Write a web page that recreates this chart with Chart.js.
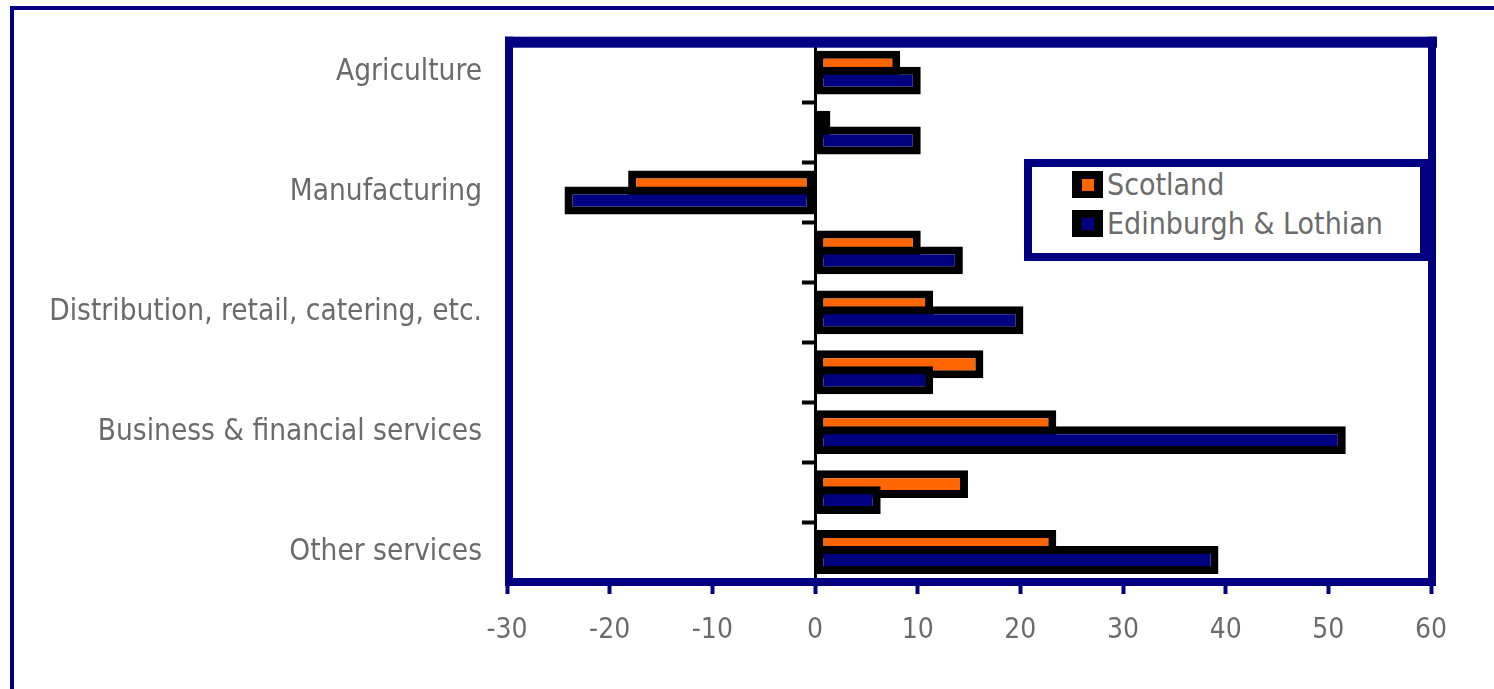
<!DOCTYPE html>
<html>
<head>
<meta charset="utf-8">
<script src="https://cdn.jsdelivr.net/npm/chart.js@4.4.1/dist/chart.umd.min.js"></script>
<style>
  body { margin: 0; background: #fff; }
  #wrap { position: relative; width: 1494px; height: 689px; overflow: hidden; }
  #outer { position: absolute; left: 10px; top: 6px; right: -10px; bottom: -10px;
    border-top: 4px solid #000080; border-left: 4px solid #000080; }
  #cChart { position: absolute; left: 0; top: 0; }
  #legend { position: absolute; left: 1024px; top: 159px; width: 404px; height: 102px;
    box-sizing: border-box; border: 8px solid #000080; background: #fff;
    font-family: "DejaVu Sans Condensed", "Liberation Sans Narrow", sans-serif; font-size: 30px; color: #6b6b6b; }
  .item { position: absolute; left: 40px; height: 27px; display: flex; align-items: center; white-space: nowrap; }
  .mark { width: 31px; height: 27px; background: #000; display: flex; align-items: center; justify-content: center; margin-right: 4px; }
  .mark span { width: 12px; height: 12px; display: block; }
</style>
</head>
<body>
<div id="wrap">
  <div id="outer"></div>
  <canvas id="cChart" width="1494" height="689"></canvas>
  <div id="legend"></div>
</div>
<script>
var categories = ['Agriculture', '', 'Manufacturing', '', 'Distribution, retail, catering, etc.', '',
  'Business & financial services', '', 'Other services'];
var scotland = [8.3, 1.5, -18.2, 10.3, 11.5, 16.4, 23.5, 14.9, 23.5];
var edinburgh = [10.3, 10.3, -24.4, 14.4, 20.3, 11.5, 51.7, 6.4, 39.3];
var xTicks = [-30, -20, -10, 0, 10, 20, 30, 40, 50, 60];
var seriesNames = ['Scotland', 'Edinburgh & Lothian'];
var seriesColors = ['#ff6600', '#000080'];

var navy = '#000080';
var fontFamily = '"DejaVu Sans Condensed", "Liberation Sans Narrow", sans-serif';

// frame round the plot, and draw Scotland first so Edinburgh sits on top
var framePlugin = {
  id: 'frame',
  beforeDatasetsDraw: function(chart) {
    var a = chart.chartArea, ctx = chart.ctx;
    ctx.save();
    ctx.fillStyle = navy;
    ctx.fillRect(a.left - 2, a.top - 6, a.right - a.left + 8, 11); // top
    ctx.fillRect(a.left - 2, a.top - 6, 8, a.bottom - a.top + 10); // left
    ctx.fillRect(a.right - 3, a.top - 6, 8, a.bottom - a.top + 10); // right
    ctx.fillRect(a.left - 2, a.bottom - 4, a.right - a.left + 7, 8); // bottom
    ctx.restore();
  },
  beforeDatasetDraw: function() {
    return false;
  },
  afterDatasetsDraw: function(chart) {
    chart.getDatasetMeta(0).controller.draw();
    chart.getDatasetMeta(1).controller.draw();
  }
};

var chartData = {
  labels: categories,
  datasets: [scotland, edinburgh].map(function(vals, i) {
    return {
      label: seriesNames[i],
      data: vals,
      yAxisID: 'y',
      backgroundColor: seriesColors[i],
      borderColor: '#000',
      borderWidth: 8,
      borderSkipped: false,
      inflateAmount: 0,
      categoryPercentage: 0.532,
      barPercentage: 1.75
    };
  })
};

var ctx = document.getElementById('cChart');
var chartInstance = new Chart(ctx, {
  type: 'bar',
  data: chartData,
  plugins: [framePlugin],
  options: {
    indexAxis: 'y',
    responsive: false,
    animation: false,
    layout: { padding: { top: 40, right: 63, left: 0, bottom: 0 } },
    plugins: { legend: { display: false }, tooltip: { enabled: false } },
    scales: {
      x: {
        type: 'linear',
        min: -30,
        max: 60,
        afterBuildTicks: function(s) {
          s.ticks = xTicks.map(function(v) { return { value: v }; });
        },
        afterFit: function(s) { s.height = 107; },
        border: { display: false },
        grid: { drawOnChartArea: false, drawTicks: true, tickLength: 12, tickColor: navy, tickWidth: 4 },
        ticks: { padding: 20, color: '#6b6b6b', font: { family: fontFamily, size: 28 }, maxRotation: 0 }
      },
      y: {
        type: 'category',
        position: 'left',
        offset: true,
        afterFit: function(s) { s.width = 507; },
        border: { display: false },
        grid: { display: false, drawTicks: false, offset: true },
        ticks: { padding: 25, autoSkip: false, color: '#6b6b6b', font: { family: fontFamily, size: 29.5 } }
      },
      y2: {
        type: 'category',
        position: { x: 0 },
        offset: true,
        border: { display: true, color: '#000', width: 3 },
        grid: { drawOnChartArea: false, drawTicks: true, tickLength: 12, tickColor: '#000', tickWidth: 4, offset: true },
        ticks: { display: false }
      }
    }
  }
});

// legend as html
var legendHtml = '';
seriesNames.forEach(function(name, i) {
  legendHtml += '<div class="item" style="top:' + (4 + i * 39) + 'px"><div class="mark"><span style="background:' +
    seriesColors[i] + '"></span></div>' + name + '</div>';
});
document.getElementById('legend').innerHTML = legendHtml;
</script>
</body>
</html>
